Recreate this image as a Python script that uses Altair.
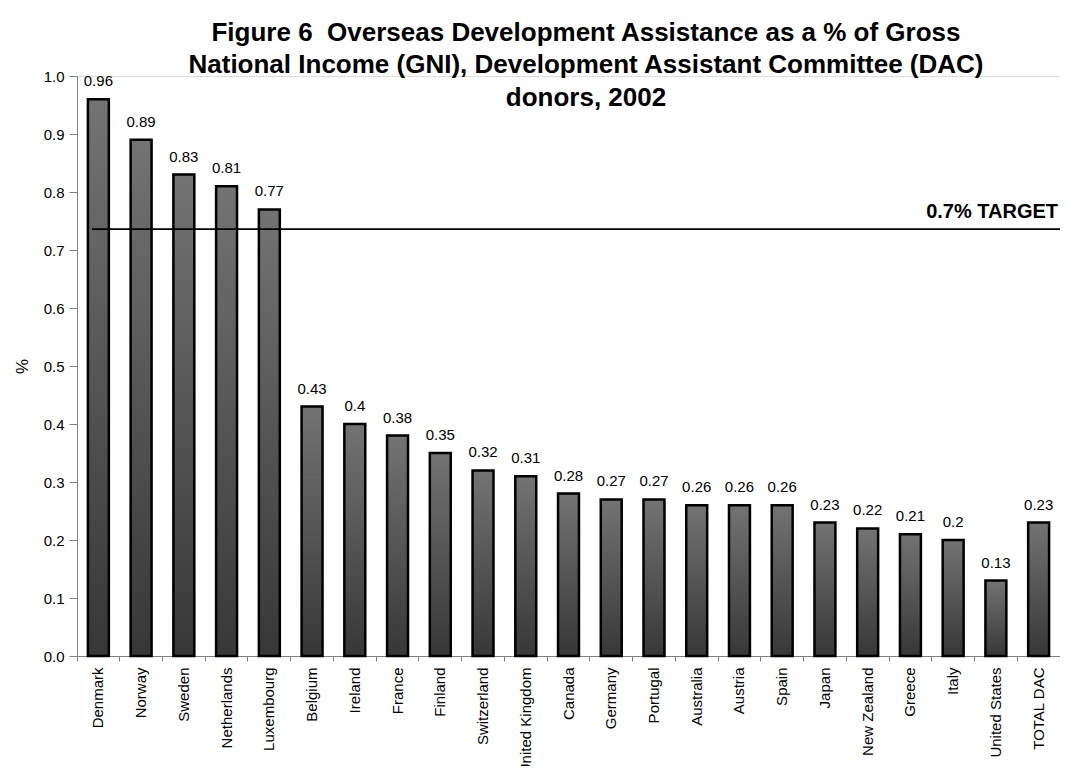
import altair as alt
import pandas as pd

countries = ["Denmark", "Norway", "Sweden", "Netherlands", "Luxembourg", "Belgium",
             "Ireland", "France", "Finland", "Switzerland", "United Kingdom", "Canada",
             "Germany", "Portugal", "Australia", "Austria", "Spain", "Japan",
             "New Zealand", "Greece", "Italy", "United States", "TOTAL DAC"]
values = [0.96, 0.89, 0.83, 0.81, 0.77, 0.43, 0.4, 0.38, 0.35, 0.32, 0.31, 0.28,
          0.27, 0.27, 0.26, 0.26, 0.26, 0.23, 0.22, 0.21, 0.2, 0.13, 0.23]
target_value = [0.736]
target_label = ["0.7% TARGET"]
title_lines = ["Figure 6\u00a0 Overseas Development Assistance as a % of Gross",
               "National Income (GNI), Development Assistant Committee (DAC)",
               "donors, 2002"]
y_ticks = [0.0, 0.1, 0.2, 0.3, 0.4, 0.5, 0.6, 0.7, 0.8, 0.9, 1.0]

W = 983
H = 580
FONT = "Arial, Liberation Sans, sans-serif"

df = pd.DataFrame({"country": countries, "value": values,
                   "label": [str(v) for v in values]})

x = alt.X("country:N", sort=countries, title=None,
          scale=alt.Scale(paddingInner=0, paddingOuter=0),
          axis=alt.Axis(labelAngle=-90, labelFontSize=15, labelFont=FONT,
                        labelColor="black", tickSize=5, labelPadding=6,
                        bandPosition=0, domainColor="#808080", tickColor="#808080",
                        labelOverlap=False))
y = alt.Y("value:Q", title="%",
          scale=alt.Scale(domain=[0, 1], nice=False),
          axis=alt.Axis(values=y_ticks, format=".1f", grid=False, labelFontSize=15,
                        labelFont=FONT, labelColor="black", tickSize=8, labelPadding=5,
                        domainColor="#808080", tickColor="#808080",
                        titleFontSize=17, titleFont=FONT, titleFontWeight="normal",
                        titleColor="black", titlePadding=12))

gradient = alt.Gradient(
    gradient="linear",
    stops=[alt.GradientStop(color="#737373", offset=0),
           alt.GradientStop(color="#373737", offset=1)],
    x1=0, x2=0, y1=0, y2=1)

base = alt.Chart(df)

bars = base.mark_bar(color=gradient, stroke="black", strokeWidth=2.5,
                     width=alt.RelativeBandSize(0.49)).encode(x=x, y=y)

labels = base.mark_text(baseline="alphabetic", dy=-13, fontSize=15, font=FONT,
                        color="black").encode(x=x, y="value:Q", text="label:N")

tdf = pd.DataFrame({"target": target_value, "tlabel": target_label})
rule = alt.Chart(tdf).mark_rule(color="black", strokeWidth=1.6).encode(
    y="target:Q", x=alt.value(15), x2=alt.value(W))
tlabel = alt.Chart(tdf).mark_text(align="right", baseline="alphabetic", fontSize=20,
                                  fontWeight="bold", font=FONT, color="black").encode(
    x=alt.value(W - 2), y=alt.value(142), text="tlabel:N")

tdf2 = pd.DataFrame({"line": title_lines, "ypos": [-35, -3, 30]})
title = alt.Chart(tdf2).mark_text(align="center", baseline="alphabetic", fontSize=26,
                                  fontWeight="bold", font=FONT, color="black").encode(
    x=alt.value(509), y=alt.Y("ypos:Q", scale=None), text="line:N")

chart = alt.layer(bars, labels, rule, tlabel, title).properties(
    width=W, height=H,
    autosize=alt.AutoSizeParams(type="none"),
    padding={"left": 69, "top": 68, "right": 0, "bottom": 110},
).configure_view(stroke=None).configure(background="white")

chart.save("out.html", embed_options={"renderer": "svg", "actions": False})
